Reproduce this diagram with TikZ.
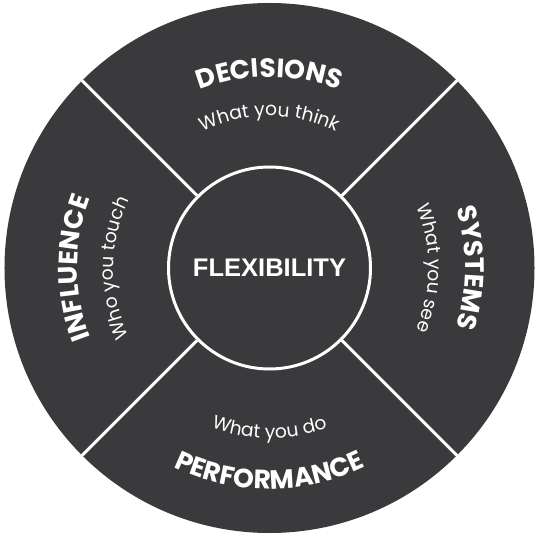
\documentclass[tikz,border=0pt]{standalone}
\usepackage{fontspec}
\setmainfont{Poppins}
\newfontfamily\flexfont{Liberation Sans}
\usetikzlibrary{decorations.text}
\definecolor{wheelgray}{RGB}{58,57,59}
\newcommand\headfmt{\fontsize{26.5}{30}\selectfont\bfseries}
\newcommand\subfmt{\fontsize{18.7}{22}\selectfont}
\begin{document}
\begin{tikzpicture}[
  headtext/.style={decorate, decoration={text along path, text align=center, text color=white, text={|\headfmt|#1}}},
  subtext/.style={decorate, decoration={text along path, text align=center, text color=white, text={|\subfmt|#1}}},
  divider/.style={draw=white, line width=3pt}
]
\useasboundingbox (-269.5pt,-272pt) rectangle (270.5pt,268pt);
\node (wheel) [circle, fill=wheelgray, minimum size=530pt, inner sep=0pt] at (0,0) {};
\node (flex) [circle, draw=white, line width=3pt, minimum size=202pt, inner sep=0pt,
  text=white, font=\flexfont\bfseries\fontsize{25.5}{30}\selectfont] at (0,0) {FLEXIBILITY};
\draw[divider] (flex.45) -- (wheel.45);
\draw[divider] (flex.135) -- (wheel.135);
\draw[divider] (flex.225) -- (wheel.225);
\draw[divider] (flex.315) -- (wheel.315);
% top
\path[headtext=DECISIONS] (150:191pt) arc[start angle=150, end angle=30, radius=191pt];
\path[subtext=What you think] (150:152pt) arc[start angle=150, end angle=30, radius=152pt];
% bottom
\path[subtext=What you do] (210:170pt) arc[start angle=210, end angle=330, radius=170pt];
\path[headtext=PERFORMANCE] (210:221pt) arc[start angle=210, end angle=330, radius=221pt];
% left
\path[headtext=INFLUENCE] (240:192pt) arc[start angle=240, end angle=120, radius=192pt];
\path[subtext=Who you touch] (240:156pt) arc[start angle=240, end angle=120, radius=156pt];
% right
\path[headtext=SYSTEMS] (60:196pt) arc[start angle=60, end angle=-60, radius=196pt];
\path[subtext=What you see] (60:159pt) arc[start angle=60, end angle=-60, radius=159pt];
\end{tikzpicture}
\end{document}
